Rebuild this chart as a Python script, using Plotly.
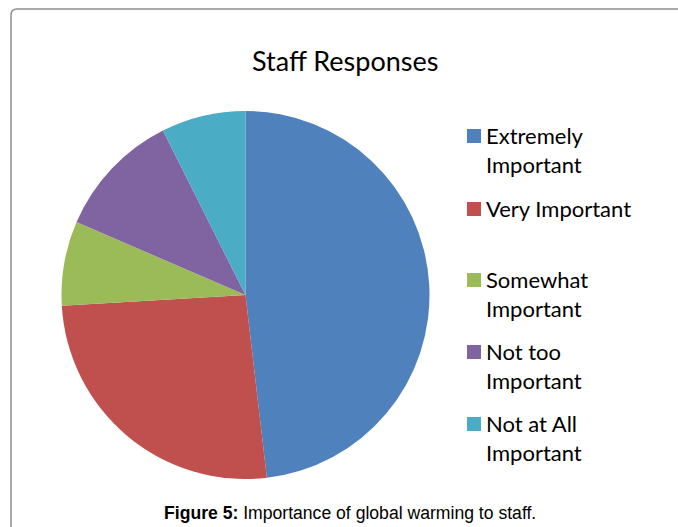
import plotly.graph_objects as go

# Survey responses (number of staff)
categories = ["Extremely Important", "Very Important", "Somewhat Important",
              "Not too Important", "Not at All Important"]
legend_labels = ["Extremely<br>Important", "Very Important", "Somewhat<br>Important",
                 "Not too<br>Important", "Not at All<br>Important"]
counts = [13, 7, 2, 3, 2]
colors = ["#4F81BD", "#C0504D", "#9BBB59", "#8064A2", "#4BACC6"]

W, H = 678, 527
FONT = "Lato"

fig = go.Figure()
fig.add_trace(go.Pie(
    labels=categories,
    values=counts,
    marker=dict(colors=colors, line=dict(width=0)),
    sort=False,
    direction="clockwise",
    rotation=0,
    textinfo="none",
    hoverinfo="label+value+percent",
    showlegend=False,
    domain=dict(x=[61 / W, 430 / W], y=[1 - 479 / H, 1 - 111 / H]),
))

shapes = []
annotations = []

# Chart frame with a rounded top-left corner
shapes.append(dict(
    type="path", xref="paper", yref="paper",
    path=f"M {11/W} {-0.05} L {11/W} {1-15/H} Q {11/W} {1-9/H} {17/W} {1-9/H} L {1.05} {1-9/H}",
    line=dict(color="#8c8c8c", width=1.5),
))

# Legend: colour swatch plus wrapped label
legend_tops = [136, 209, 280, 352, 424]
for lbl, col, top in zip(legend_labels, colors, legend_tops):
    shapes.append(dict(
        type="rect", xref="paper", yref="paper",
        x0=467 / W, x1=481 / W, y0=1 - (top + 7) / H, y1=1 - (top - 7) / H,
        fillcolor=col, line=dict(width=0),
    ))
    annotations.append(dict(
        x=484 / W, y=1 - (top - 16) / H, xref="paper", yref="paper",
        xanchor="left", yanchor="top", align="left", showarrow=False,
        text=lbl, font=dict(family=FONT, size=22, color="#000000"),
    ))

# Chart title
annotations.append(dict(
    x=345 / W, y=1 - 60 / H, xref="paper", yref="paper",
    xanchor="center", yanchor="middle", showarrow=False,
    text="Staff Responses", font=dict(family=FONT, size=27, color="#000000"),
))

# Figure caption
annotations.append(dict(
    x=350 / W, y=1 - 513 / H, xref="paper", yref="paper",
    xanchor="center", yanchor="middle", showarrow=False,
    text="<b>Figure 5:</b> Importance of global warming to staff.",
    font=dict(family="Liberation Sans", size=17.6, color="#000000"),
))

fig.update_layout(
    width=W, height=H,
    margin=dict(l=0, r=0, t=0, b=0),
    paper_bgcolor="#ffffff",
    plot_bgcolor="#ffffff",
    shapes=shapes,
    annotations=annotations,
    showlegend=False,
)

fig.write_html("out.html")
